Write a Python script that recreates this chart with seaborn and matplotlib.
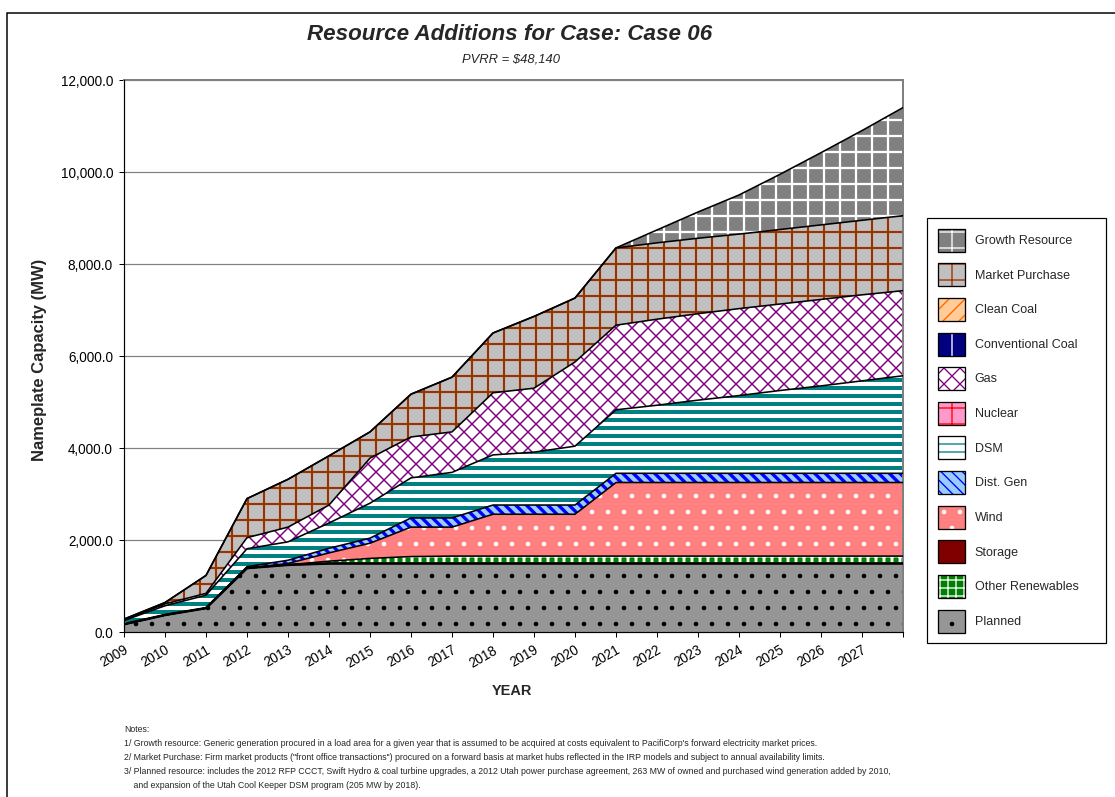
import numpy as np
import pandas as pd
import matplotlib
matplotlib.use("Agg")
import matplotlib.pyplot as plt
import matplotlib.patches as mpatches
from matplotlib import font_manager
from matplotlib.ticker import FuncFormatter, MultipleLocator
import seaborn as sns

# ------------------------------------------------------------------
# data (MW)
# ------------------------------------------------------------------
years = list(range(2009, 2029))
year_labels = [str(y) for y in range(2009, 2028)] + [""]

planned    = [170, 370, 520, 1390, 1460] + [1490] * 15
other_ren  = [0, 0, 0, 0, 0, 50, 110, 150] + [160] * 12
storage    = [0] * 20
wind       = [0, 0, 0, 0, 30, 180, 330, 640, 630, 910, 910, 910] + [1600] * 8
dist_gen   = [0, 0, 0, 30, 70, 100, 110, 200, 200] + [200] * 11
dsm        = [80, 200, 280, 390, 400, 550, 760, 870, 990, 1090, 1150, 1280,
              1380, 1480, 1590, 1690, 1800, 1900, 2010, 2120]
nuclear    = [0] * 20
gas        = [15, 40, 40, 240, 320, 390, 980, 890, 880, 1350, 1390, 1830,
              1840, 1870, 1880, 1890, 1880, 1880, 1870, 1850]
conv_coal  = [0] * 20
clean_coal = [0] * 20
market     = [15, 30, 390, 850, 1040, 1070, 570, 930, 1190, 1300, 1560, 1390,
              1680, 1660, 1640, 1620, 1620, 1620, 1620, 1630]
growth     = [0] * 13 + [280, 570, 850, 1200, 1570, 1950, 2350]

series = [
    ("Planned", planned),
    ("Other Renewables", other_ren),
    ("Storage", storage),
    ("Wind", wind),
    ("Dist. Gen", dist_gen),
    ("DSM", dsm),
    ("Nuclear", nuclear),
    ("Gas", gas),
    ("Conventional Coal", conv_coal),
    ("Clean Coal", clean_coal),
    ("Market Purchase", market),
    ("Growth Resource", growth),
]

# face colour, hatch colour, hatch, hatch linewidth (pt)
styles = {
    "Planned":           ("#969696", "black",   ".",      1.0),
    "Other Renewables":  ("#008000", "white",   "++",     2.2),
    "Storage":           ("#800000", "#800000", "",       1.0),
    "Wind":              ("#FF8080", "white",   ".",      1.0),
    "Dist. Gen":         ("#99CCFF", "#0000FF", "\\\\\\", 2.5),
    "DSM":               ("white",   "#008080", "--",     3.0),
    "Nuclear":           ("#FF99CC", "#FF0000", "+",      1.5),
    "Gas":               ("white",   "#800080", "xx",     1.1),
    "Conventional Coal": ("#000080", "white",   "|",      3.0),
    "Clean Coal":        ("#FFCC99", "#FF6600", "//",     3.0),
    "Market Purchase":   ("#C0C0C0", "#993300", "+",      1.6),
    "Growth Resource":   ("#808080", "white",   "+",      1.7),
}

notes = [
    "Notes:",
    "1/ Growth resource: Generic generation procured in a load area for a given year that is assumed to be acquired at costs equivalent to PacifiCorp's forward electricity market prices.",
    "2/ Market Purchase: Firm market products (\"front office transactions\") procured on a forward basis at market hubs reflected in the IRP models and subject to annual availability limits.",
    "3/ Planned resource: includes the 2012 RFP CCCT, Swift Hydro & coal turbine upgrades, a 2012 Utah power purchase agreement, 263 MW of owned and purchased wind generation added by 2010,",
    "    and expansion of the Utah Cool Keeper DSM program (205 MW by 2018).",
]

# ------------------------------------------------------------------
# figure setup
# ------------------------------------------------------------------
W, H, DPI = 1115, 797, 96
def px(v):
    return v * 72.0 / DPI

sns.set_style("white")
plt.rcParams["font.family"] = ["Liberation Sans", "DejaVu Sans"]

installed = {f.name for f in font_manager.fontManager.ttflist}
narrow = "Liberation Sans Narrow" in installed

fig = plt.figure(figsize=(W / DPI, H / DPI), dpi=DPI)
ax = fig.add_axes([124 / W, 1 - 632 / H, (903 - 124) / W, (632 - 80) / H])

x = np.arange(len(years))
df = pd.DataFrame({name: vals for name, vals in series}, index=x)
cum = df.cumsum(axis=1)


def hatch_lw(artist, lw):
    if hasattr(artist, "set_hatch_linewidth"):
        artist.set_hatch_linewidth(lw)


lower = np.zeros(len(x))
for name, vals in series:
    upper = cum[name].values
    fc, hc, hatch, hlw = styles[name]
    with plt.rc_context({"hatch.linewidth": hlw}):
        coll = ax.fill_between(x, lower, upper, facecolor=fc, edgecolor=hc,
                               hatch=hatch, linewidth=0, zorder=2)
    hatch_lw(coll, hlw)
    lower = upper

# black outlines on top of each non-empty layer
edges = []
for name, vals in series:
    if sum(vals) > 0:
        edges.append(pd.DataFrame({"x": x, "y": cum[name].values, "layer": name}))
edges = pd.concat(edges)
sns.lineplot(data=edges, x="x", y="y", units="layer", estimator=None,
             color="black", linewidth=px(1.6), ax=ax, zorder=3, legend=False)
sns.lineplot(x=x, y=cum["Planned"].values, color="black", linewidth=px(2.6),
             ax=ax, zorder=3)

# ------------------------------------------------------------------
# axes styling
# ------------------------------------------------------------------
ax.set_xlim(0, len(x) - 1)
ax.set_ylim(0, 12000)
ax.yaxis.set_major_locator(MultipleLocator(2000))
ax.yaxis.set_major_formatter(FuncFormatter(lambda v, p: f"{v:,.1f}"))
ax.set_xticks(x)
ax.set_xticklabels(year_labels, rotation=30, ha="right", va="top",
                   rotation_mode="anchor")
ax.tick_params(axis="both", direction="out", length=px(5), width=px(1),
               color="black", labelsize=px(13.5), labelcolor="black")
ax.tick_params(axis="x", pad=px(6))
ax.tick_params(axis="y", pad=px(6))
ax.tick_params(bottom=True, left=True)
ax.set_xlabel("")
ax.set_ylabel("")
ax.yaxis.grid(True, color="#808080", linewidth=px(1.2))
ax.xaxis.grid(False)
ax.set_axisbelow(True)
for side in ["top", "right"]:
    ax.spines[side].set_color("#808080")
    ax.spines[side].set_linewidth(px(2))
for side in ["left", "bottom"]:
    ax.spines[side].set_color("black")
    ax.spines[side].set_linewidth(px(1.2))
    ax.spines[side].set_zorder(4)

# ------------------------------------------------------------------
# texts
# ------------------------------------------------------------------
fig.text(510 / W, 1 - 35 / H, "Resource Additions for Case: Case 06",
         ha="center", va="center", fontsize=px(22.4), fontweight="bold",
         fontstyle="italic")
fig.text(511 / W, 1 - 59 / H, "PVRR = $48,140", ha="center", va="center",
         fontsize=px(13), fontstyle="italic")
fig.text(40 / W, 1 - 360 / H, "Nameplate Capacity (MW)", rotation=90,
         ha="center", va="center", fontsize=px(16.5), fontweight="bold")
fig.text(512 / W, 1 - 691 / H, "YEAR", ha="center", va="center",
         fontsize=px(14.5), fontweight="bold")

note_family = ["Liberation Sans Narrow", "Liberation Sans"] if narrow else ["Liberation Sans"]
note_size = px(10.5) if narrow else px(8.7)
for i, line in enumerate(notes):
    fig.text(124 / W, 1 - (730 + 14 * i) / H, line, ha="left", va="center",
             fontsize=note_size, family=note_family)

# outer chart border
fig.add_artist(mpatches.Rectangle((7 / W, -0.05), 1.1, 1 - 13 / H + 0.05,
                                  transform=fig.transFigure, fill=False,
                                  edgecolor="black", linewidth=px(1.5)))

# ------------------------------------------------------------------
# legend
# ------------------------------------------------------------------
handles, labels = [], []
for name, vals in reversed(series):
    fc, hc, hatch, hlw = styles[name]
    with plt.rc_context({"hatch.linewidth": hlw}):
        inner = mpatches.Patch(facecolor=fc, edgecolor=hc, hatch=hatch, linewidth=0)
    hatch_lw(inner, hlw)
    frame = mpatches.Patch(facecolor="none", edgecolor="black", linewidth=px(1.3))
    handles.append((inner, frame))
    labels.append(name)

fs = 12.5
leg = fig.legend(handles, labels, loc="upper left",
                 bbox_to_anchor=(927 / W, 1 - 218 / H, (1106 - 927) / W, 0.0),
                 bbox_transform=fig.transFigure, mode="expand",
                 fontsize=px(fs), frameon=True, fancybox=False,
                 edgecolor="black", framealpha=1, borderaxespad=0,
                 handlelength=27 / fs, handleheight=2.454,
                 labelspacing=0.93, handletextpad=0.8, borderpad=0.85)
leg.get_frame().set_linewidth(px(1.2))

fig.savefig("out.png", dpi=DPI)
